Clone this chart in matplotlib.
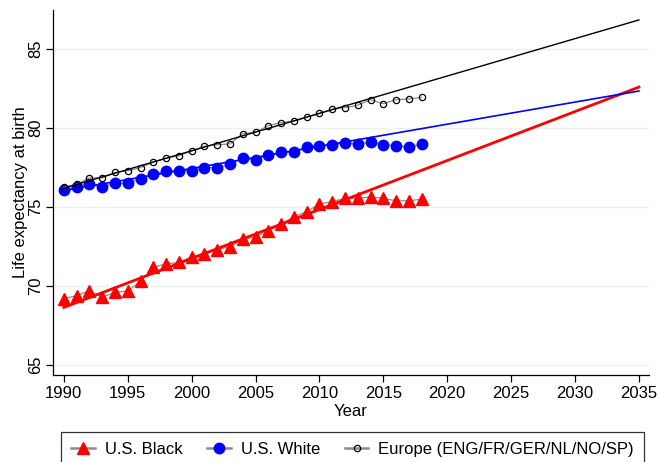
import numpy as np
import matplotlib
matplotlib.use("Agg")
import matplotlib.pyplot as plt

plt.rcParams['font.family'] = ['Liberation Sans', 'DejaVu Sans']

years = list(range(1990, 2019))

# life expectancy at birth
us_black = [69.2, 69.4, 69.7, 69.3, 69.6, 69.7, 70.3, 71.2, 71.4, 71.5,
            71.85, 72.05, 72.3, 72.5, 72.95, 73.1, 73.5, 73.9, 74.4, 74.7,
            75.2, 75.35, 75.55, 75.55, 75.65, 75.55, 75.4, 75.4, 75.5]
us_white = [76.1, 76.3, 76.45, 76.3, 76.5, 76.5, 76.8, 77.1, 77.3, 77.3,
            77.3, 77.5, 77.5, 77.7, 78.1, 78.0, 78.3, 78.5, 78.5, 78.8,
            78.9, 78.95, 79.05, 79.0, 79.1, 78.95, 78.9, 78.8, 79.0]
europe = [76.25, 76.45, 76.85, 76.85, 77.2, 77.3, 77.5, 77.85, 78.1, 78.25,
          78.55, 78.85, 78.95, 79.0, 79.65, 79.75, 80.15, 80.35, 80.45, 80.7,
          80.95, 81.2, 81.3, 81.45, 81.8, 81.55, 81.8, 81.85, 81.95]

# fitted trend lines, endpoints 1990 and 2035
trend_years = [1990, 2035]
trend_black = [68.65, 82.6]
trend_white = [76.05, 82.35]
trend_europe = [76.2, 86.85]

fig = plt.figure(figsize=(6.59, 4.62), dpi=100)
ax = fig.add_axes([0.0804, 0.1883, 0.9046, 0.7897])

grid_col = '#eaf2f3'
for v in [65, 70, 75, 80, 85]:
    ax.axhline(v, color=grid_col, lw=1.0, zorder=0)

# observed series, joined with thin grey lines
h1, = ax.plot(years, us_black, color='#8c8c8c', lw=0.9, marker='^', ms=8.5,
              mfc='#ff0000', mec='#ff0000', zorder=3, label='U.S. Black')
h2, = ax.plot(years, us_white, color='#8c8c8c', lw=0.9, marker='o', ms=7.5,
              mfc='#0000ff', mec='#0000ff', zorder=3, label='U.S. White')
h3, = ax.plot(years, europe, color='#8c8c8c', lw=0.9, marker='o', ms=4.5,
              mfc='none', mec='black', mew=0.9, zorder=3,
              label='Europe (ENG/FR/GER/NL/NO/SP)')

# trend lines
ax.plot(trend_years, trend_black, color='#ff0000', lw=2.0, zorder=4)
ax.plot(trend_years, trend_white, color='#0000ff', lw=1.2, zorder=4)
ax.plot(trend_years, trend_europe, color='black', lw=1.0, zorder=4)

ax.set_xlim(1989.15, 2035.8)
ax.set_ylim(64.37, 87.47)
ax.set_xticks(range(1990, 2036, 5))
ax.set_yticks([65, 70, 75, 80, 85])
for lab in ax.get_yticklabels():
    lab.set_rotation(90)
    lab.set_va('center')
ax.tick_params(labelsize=12, length=5, width=0.9, color='black')
ax.tick_params(axis='x', pad=3)
ax.tick_params(axis='y', pad=2)
ax.spines['top'].set_visible(False)
ax.spines['right'].set_visible(False)
ax.spines['left'].set_linewidth(0.9)
ax.spines['bottom'].set_linewidth(0.9)

ax.set_xlabel('Year', fontsize=12, labelpad=2)
ax.set_ylabel('Life expectancy at birth', fontsize=12, labelpad=0)

leg = fig.legend(handles=[h1, h2, h3], loc='upper center',
                 bbox_to_anchor=(0.535, 0.066), ncol=3, fontsize=12,
                 frameon=True, fancybox=False, edgecolor='black',
                 handlelength=1.4, columnspacing=1.5, borderpad=0.6,
                 handletextpad=0.6, borderaxespad=0)
leg.get_frame().set_linewidth(0.9)
for ln in leg.get_lines():
    ln.set_linewidth(1.8)

fig.savefig('out.png', dpi=100)
